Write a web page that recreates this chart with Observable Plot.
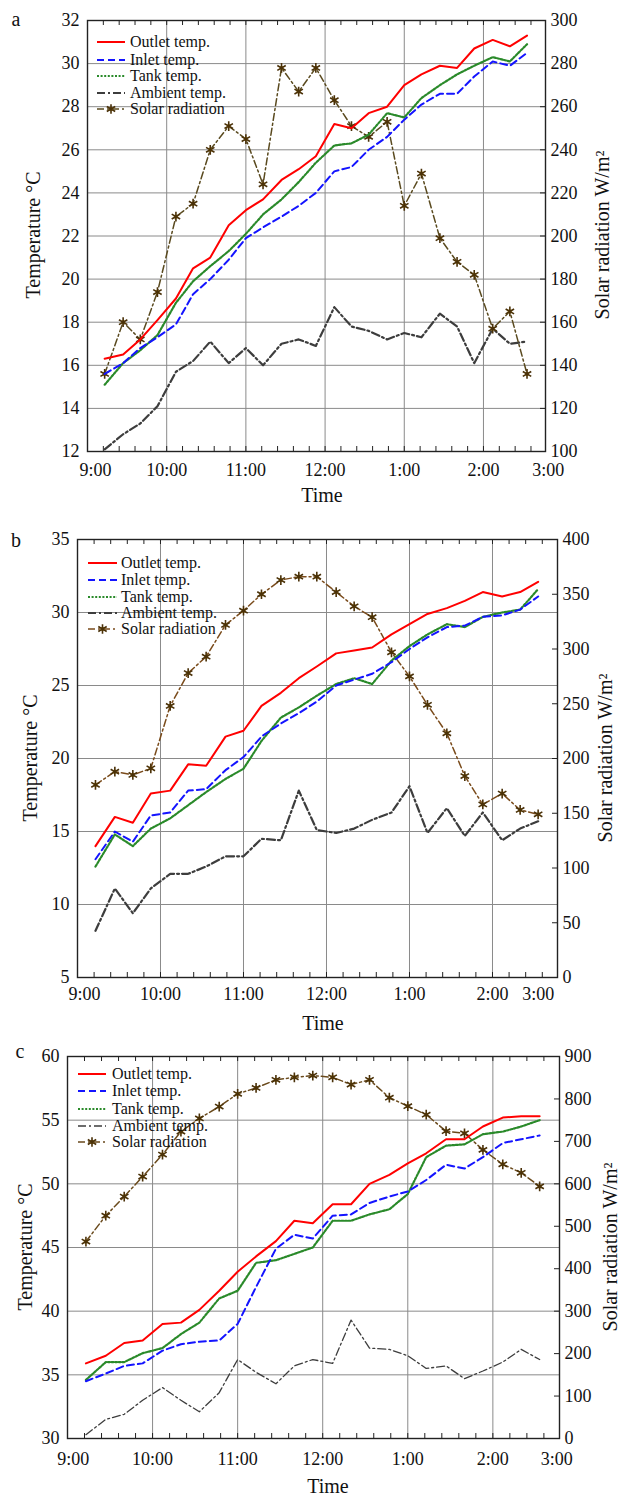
<!DOCTYPE html>
<html><head><meta charset="utf-8">
<script src="https://cdn.jsdelivr.net/npm/d3@7"></script>
<script src="https://cdn.jsdelivr.net/npm/@observablehq/plot@0.6"></script>
<style>
body{margin:0;background:#fff;}
#wrap{position:relative;width:621px;height:1500px;}
#wrap svg{position:absolute;left:0;display:block;}
#wrap svg text, #wrap svg g{font-family:"Liberation Serif","Times New Roman",serif !important;font-variant-numeric:normal !important;font-variant:normal !important;}
</style></head><body><div id="wrap"></div>
<script>
// ---- data ----
const times = ["9:13","9:27","9:40","9:53","10:07","10:20","10:33","10:47","11:00","11:13","11:27","11:40","11:53","12:07","12:20","12:33","12:47","1:00","1:13","1:27","1:40","1:53","2:07","2:20","2:33"];
const xTickLabels = ["9:00","10:00","11:00","12:00","1:00","2:00","3:00"];
const seriesNames = ["Outlet temp.","Inlet temp.","Tank temp.","Ambient temp.","Solar radiation"];

const outletA  = [16.3,16.5,17.2,18.1,19.1,20.5,21.0,22.5,23.2,23.7,24.6,25.1,25.7,27.2,27.0,27.7,28.0,29.0,29.5,29.9,29.8,30.7,31.1,30.8,31.3];
const inletA   = [15.6,16.1,16.8,17.3,17.9,19.3,20.0,20.9,21.9,22.4,22.9,23.4,24.0,25.0,25.2,26.0,26.6,27.4,28.1,28.6,28.6,29.4,30.1,29.9,30.5];
const tankA    = [15.1,16.1,16.7,17.4,18.9,19.9,20.6,21.3,22.1,23.0,23.7,24.5,25.4,26.2,26.3,26.7,27.7,27.5,28.4,29.0,29.5,29.9,30.3,30.1,30.9];
const ambientA = [12.1,12.8,13.3,14.1,15.7,16.2,17.1,16.1,16.8,16.0,17.0,17.2,16.9,18.7,17.8,17.6,17.2,17.5,17.3,18.4,17.8,16.1,17.7,17.0,17.1];
const solarA   = [136,160,152,174,209,215,240,251,245,224,278,267,278,263,251,246,253,214,229,199,188,182,157,165,136];

const outletB  = [14.0,16.0,15.6,17.6,17.8,19.6,19.5,21.5,21.9,23.6,24.5,25.5,26.3,27.2,27.4,27.6,28.5,29.2,29.9,30.3,30.8,31.4,31.1,31.4,32.1];
const inletB   = [13.1,15.0,14.3,16.1,16.3,17.8,17.9,19.2,20.1,21.5,22.4,23.1,23.9,25.0,25.4,25.8,26.6,27.5,28.3,29.0,29.1,29.7,29.8,30.2,31.1];
const tankB    = [12.6,14.8,14.0,15.2,15.9,16.8,17.7,18.6,19.3,21.2,22.8,23.5,24.3,25.1,25.5,25.1,26.7,27.7,28.5,29.2,29.0,29.7,30.0,30.2,31.6];
const ambientB = [8.2,11.1,9.4,11.1,12.1,12.1,12.6,13.3,13.3,14.5,14.4,17.8,15.1,14.9,15.2,15.8,16.3,18.1,14.9,16.6,14.7,16.3,14.4,15.2,15.7];
const solarB   = [176,188,185,191,248,278,293,322,335,350,363,366,366,352,339,329,297,275,249,223,184,158,168,153,149];

const outletC  = [35.9,36.5,37.5,37.7,39.0,39.1,40.1,41.6,43.1,44.3,45.5,47.1,46.9,48.4,48.4,50.0,50.7,51.6,52.4,53.5,53.5,54.5,55.2,55.3,55.3];
const inletC   = [34.5,35.1,35.7,35.9,36.9,37.4,37.6,37.7,39.0,41.9,44.9,46.0,45.7,47.5,47.6,48.5,49.0,49.4,50.3,51.5,51.2,52.1,53.2,53.5,53.8];
const tankC    = [34.6,36.0,36.0,36.7,37.1,38.2,39.1,41.0,41.6,43.8,44.0,44.5,45.0,47.1,47.1,47.6,48.0,49.2,52.1,53.0,53.1,53.9,54.1,54.5,55.0];
const ambientC = [30.3,31.5,31.9,33.0,34.0,33.0,32.1,33.6,36.2,35.2,34.3,35.7,36.2,35.9,39.3,37.1,37.0,36.5,35.5,35.7,34.7,35.3,36.0,37.0,36.2];
const solarC   = [464,525,570,617,669,723,754,782,812,826,845,851,855,851,834,845,803,783,763,724,719,680,646,626,594];

const tempTicksA = [12,14,16,18,20,22,24,26,28,30,32];
const solarTicksA = [100,120,140,160,180,200,220,240,260,280,300];
const tempTicksB = [5,10,15,20,25,30,35];
const solarTicksB = [0,50,100,150,200,250,300,350,400];
const tempTicksC = [30,35,40,45,50,55,60];
const solarTicksC = [0,100,200,300,400,500,600,700,800,900];

// ---- helpers ----
const FONT = '"Liberation Serif", "Times New Roman", serif';
const parseT = s => { let [h, m] = s.split(":").map(Number); if (h < 9) h += 12; return (h - 9) * 60 + m; };
const xDomain = [0, 347];
const hourGrid = [60, 120, 180, 240, 300];
const minorTicks = d3.range(12, 347, 12);

const panels = [
  {id:"a", top:0, h:510, mt:20, mb:59, ml:87, mr:76, yDomain:[12,32], rDomain:[100,300],
   yTicks:tempTicksA, rTicks:solarTicksA, xPos:[6,60,120,180,240,300,349], xPad:12,
   series:[outletA,inletA,tankA,ambientA,solarA], solarColor:"#5a4a1f", ambW:2.2,
   leg:{x0:97,x1:125,tx:130,rows:[42,60,76,93,109]},
   letter:[16,21], time:[322,497], left:[35,235], right:[604,235]},
  {id:"b", top:510, h:525, mt:29, mb:58, ml:77, mr:64, yDomain:[5,35], rDomain:[0,400],
   yTicks:tempTicksB, rTicks:solarTicksB, xPos:[5,60,120,180,240,300,333], xPad:10,
   series:[outletB,inletB,tankB,ambientB,solarB], solarColor:"#7a4b1b", ambW:2.2,
   leg:{x0:88,x1:117,tx:121,rows:[53,70,87,103,119]},
   letter:[16,32], time:[323,515], left:[32,248], right:[607,248]},
  {id:"c", top:1035, h:465, mt:21, mb:62, ml:67, mr:62, yDomain:[30,60], rDomain:[0,900],
   yTicks:tempTicksC, rTicks:solarTicksC, xPos:[4,60,120,180,240,300,345], xPad:14,
   series:[outletC,inletC,tankC,ambientC,solarC], solarColor:"#6a4a1c", ambW:1.3,
   leg:{x0:78,x1:106,tx:112,rows:[39,56,74,91,107]},
   letter:[20,18], time:[328,453], left:[27,212], right:[612,212]}
];

const wrap = document.getElementById("wrap");

for (const c of panels) {
  const [lo, hi] = c.yDomain, [rlo, rhi] = c.rDomain;
  const toT = s => lo + (s - rlo) / (rhi - rlo) * (hi - lo);
  const fromT = t => rlo + (t - lo) / (hi - lo) * (rhi - rlo);
  const [out, inl, tank, amb, sol] = c.series;
  const data = times.map((s, i) => ({t: parseT(s), outlet: out[i], inlet: inl[i], tank: tank[i], ambient: amb[i], solar: sol[i]}));
  const fw = 621 - c.ml - c.mr, fh = c.h - c.mt - c.mb;

  const styles = [
    {stroke:"#ff0000", strokeWidth:2},
    {stroke:"#1414ff", strokeWidth:2, strokeDasharray:"7,4"},
    {stroke:"#2a8a2a", strokeWidth:2.2, strokeDasharray:"2,1.6"},
    {stroke:"#3d3d3d", strokeWidth:c.ambW, strokeDasharray:"8,3,2,3"},
    {stroke:c.solarColor, strokeWidth:1.5, strokeDasharray:"7,3,2,3"}
  ];
  const axText = {fontFamily: FONT, fontSize: 18, fill: "#111", fontVariant: "normal"};

  const svg = Plot.plot({
    width: 621, height: c.h,
    marginTop: c.mt, marginRight: c.mr, marginBottom: c.mb, marginLeft: c.ml,
    style: {fontFamily: FONT, fontSize: "18px", color: "#111", background: "transparent", overflow: "visible"},
    x: {domain: xDomain, axis: null},
    y: {domain: c.yDomain, axis: null},
    marks: [
      Plot.gridY(c.yTicks.slice(1, -1), {stroke: "#8a8a8a", strokeOpacity: 1, strokeWidth: 1}),
      Plot.gridX(hourGrid, {stroke: "#8a8a8a", strokeOpacity: 1, strokeWidth: 1}),
      Plot.ruleX(minorTicks, {insetBottom: fh - 5, stroke: "#222"}),
      Plot.ruleX(minorTicks, {insetTop: fh - 5, stroke: "#222"}),
      Plot.ruleY(c.rTicks.map(toT), {insetLeft: fw - 5, stroke: "#222"}),
      Plot.axisY(c.yTicks, {anchor: "left", tickSize: 0, tickPadding: 8, label: null, ...axText}),
      Plot.axisY(c.rTicks.map(toT), {anchor: "right", tickSize: 0, tickPadding: 5, label: null, ...axText,
        tickFormat: t => String(Math.round(fromT(t)))}),
      Plot.axisX(c.xPos, {anchor: "bottom", tickSize: 0, tickPadding: c.xPad, label: null, ...axText,
        tickFormat: d => xTickLabels[c.xPos.indexOf(d)]}),
      Plot.line(data, {x: "t", y: "ambient", ...styles[3]}),
      Plot.line(data, {x: "t", y: d => toT(d.solar), ...styles[4]}),
      Plot.dot(data, {x: "t", y: d => toT(d.solar), r: 2.2, fill: "#c9a53a"}),
      Plot.dot(data, {x: "t", y: d => toT(d.solar), symbol: "asterisk", r: 4.6, stroke: "#4a3109", strokeWidth: 1.6}),
      Plot.line(data, {x: "t", y: "tank", ...styles[2]}),
      Plot.line(data, {x: "t", y: "inlet", ...styles[1]}),
      Plot.line(data, {x: "t", y: "outlet", ...styles[0]}),
      Plot.frame({stroke: "#222", strokeWidth: 1.4})
    ]
  });
  svg.style.top = c.top + "px";
  wrap.appendChild(svg);

  const g = d3.select(svg).append("g").attr("font-family", FONT).attr("fill", "#111")
    .attr("text-anchor", "start");
  // legend
  seriesNames.forEach((name, i) => {
    const y = c.leg.rows[i], st = styles[i];
    g.append("line").attr("x1", c.leg.x0).attr("x2", c.leg.x1).attr("y1", y).attr("y2", y)
      .attr("stroke", st.stroke).attr("stroke-width", st.strokeWidth)
      .attr("stroke-dasharray", st.strokeDasharray || null);
    if (i === 4) {
      const mx = (c.leg.x0 + c.leg.x1) / 2;
      g.append("circle").attr("cx", mx).attr("cy", y).attr("r", 2.2).attr("fill", "#c9a53a");
      g.append("path").attr("d", d3.symbol(d3.symbolAsterisk, Math.PI * 4.6 * 4.6)())
        .attr("transform", `translate(${mx},${y})`).attr("fill", "none")
        .attr("stroke", "#4a3109").attr("stroke-width", 1.6);
    }
    g.append("text").attr("x", c.leg.tx).attr("y", y + 5).attr("font-size", 16)
      .attr("text-anchor", "start").text(name);
  });
  // panel letter and axis titles
  g.append("text").attr("x", c.letter[0]).attr("y", c.letter[1]).attr("text-anchor", "middle")
    .attr("dominant-baseline", "middle").attr("font-size", 20).text(c.id);
  g.append("text").attr("x", c.time[0]).attr("y", c.time[1]).attr("text-anchor", "middle")
    .attr("dominant-baseline", "middle").attr("font-size", 20).text("Time");
  g.append("text").attr("transform", `translate(${c.left[0]},${c.left[1]}) rotate(-90)`)
    .attr("text-anchor", "middle").attr("dominant-baseline", "middle").attr("font-size", 20).text("Temperature °C");
  g.append("text").attr("transform", `translate(${c.right[0]},${c.right[1]}) rotate(-90)`)
    .attr("text-anchor", "middle").attr("dominant-baseline", "middle").attr("font-size", 20).text("Solar radiation W/m²");
}
</script>
</body></html>
